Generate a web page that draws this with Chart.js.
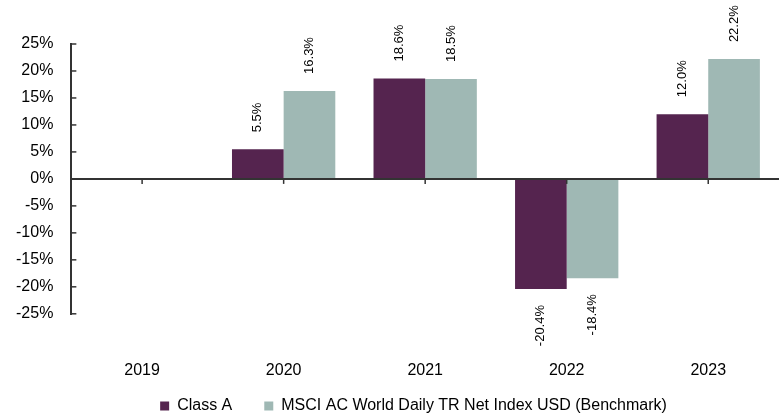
<!DOCTYPE html>
<html>
<head>
<meta charset="utf-8">
<script src="https://cdn.jsdelivr.net/npm/chart.js@4/dist/chart.umd.min.js"></script>
<style>
  html, body { margin: 0; padding: 0; background: #fff; }
  #wrap { width: 779px; height: 415px; }
</style>
</head>
<body>
<div id="wrap"><canvas id="barres"></canvas></div>
<script>
const years = ['2019', '2020', '2021', '2022', '2023']
const classA = [null, 5.5, 18.6, -20.4, 12.0]
const benchmark = [null, 16.3, 18.5, -18.4, 22.2]
const yTicks = [-25, -20, -15, -10, -5, 0, 5, 10, 15, 20, 25]

// petits traits d'axe vers l'intérieur + étiquettes de valeurs
const decor = {
  id: 'decor',
  afterLayout(chart) {
    // remet la légende à sa place (le padding du bas est négatif)
    const lg = chart.legend
    lg.left += 25
    lg.right += 25
    lg.top -= 61
    lg.bottom -= 61
  },
  afterDatasetsDraw(chart) {
    const ctx = chart.ctx
    const y = chart.scales.y
    const x = chart.scales.x
    ctx.save()
    ctx.strokeStyle = '#333'
    ctx.lineWidth = 1.5
    yTicks.forEach(v => {
      const py = y.getPixelForValue(v)
      ctx.beginPath()
      ctx.moveTo(y.right, py)
      ctx.lineTo(y.right + 5, py)
      ctx.stroke()
    })
    const zero = y.getPixelForValue(0)
    years.forEach((c, i) => {
      const px = x.getPixelForValue(i)
      ctx.beginPath()
      ctx.moveTo(px, zero)
      ctx.lineTo(px, zero + 5)
      ctx.stroke()
    })

    ctx.fillStyle = '#000'
    ctx.font = '13px "Liberation Sans", Arial, sans-serif'
    ctx.textBaseline = 'middle'
    chart.data.datasets.forEach((ds, di) => {
      const meta = chart.getDatasetMeta(di)
      meta.data.forEach((bar, i) => {
        const v = ds.data[i]
        if (v === null) return
        const txt = v.toFixed(1) + '%'
        ctx.save()
        ctx.translate(bar.x, bar.y)
        ctx.rotate(-Math.PI / 2)
        if (v >= 0) {
          ctx.textAlign = 'left'
          ctx.fillText(txt, 17, 0)
        } else {
          ctx.textAlign = 'right'
          ctx.fillText(txt, -16, 0)
        }
        ctx.restore()
      })
    })
    ctx.restore()
  }
}

new Chart(
  document.getElementById('barres'),
  {
    type: 'bar',
    data: {
      labels: years,
      datasets: [
        {
          label: 'Class A',
          data: classA,
          backgroundColor: '#55244f',
          borderWidth: 0
        },
        {
          label: 'MSCI AC World Daily TR Net Index USD (Benchmark)',
          data: benchmark,
          backgroundColor: '#9fb8b4',
          borderWidth: 0
        }
      ]
    },
    options: {
      responsive: true,
      maintainAspectRatio: false,
      animation: false,
      categoryPercentage: 0.73,
      barPercentage: 1,
      layout: { padding: { left: -2, right: 0, top: 44, bottom: -70 } },
      plugins: {
        tooltip: { enabled: false },
        legend: {
          position: 'bottom',
          labels: {
            boxWidth: 9,
            boxHeight: 9,
            padding: 32,
            color: '#000',
            font: { family: '"Liberation Sans", Arial, sans-serif', size: 16 }
          }
        }
      },
      scales: {
        x: {
          grid: { display: false, drawTicks: false },
          border: { display: false },
          ticks: {
            color: '#000',
            padding: 47,
            maxRotation: 0,
            font: { family: '"Liberation Sans", Arial, sans-serif', size: 16 }
          }
        },
        y: {
          min: -25,
          max: 25,
          border: { display: true, color: '#333', width: 2 },
          grid: {
            drawTicks: false,
            lineWidth: 2,
            color: c => c.tick && c.tick.value === 0 ? '#333' : 'rgba(0,0,0,0)'
          },
          ticks: {
            stepSize: 5,
            autoSkip: false,
            padding: 18,
            color: '#000',
            font: { family: '"Liberation Sans", Arial, sans-serif', size: 16 },
            callback: v => v + '%'
          }
        }
      }
    },
    plugins: [decor]
  }
);
</script>
</body>
</html>
